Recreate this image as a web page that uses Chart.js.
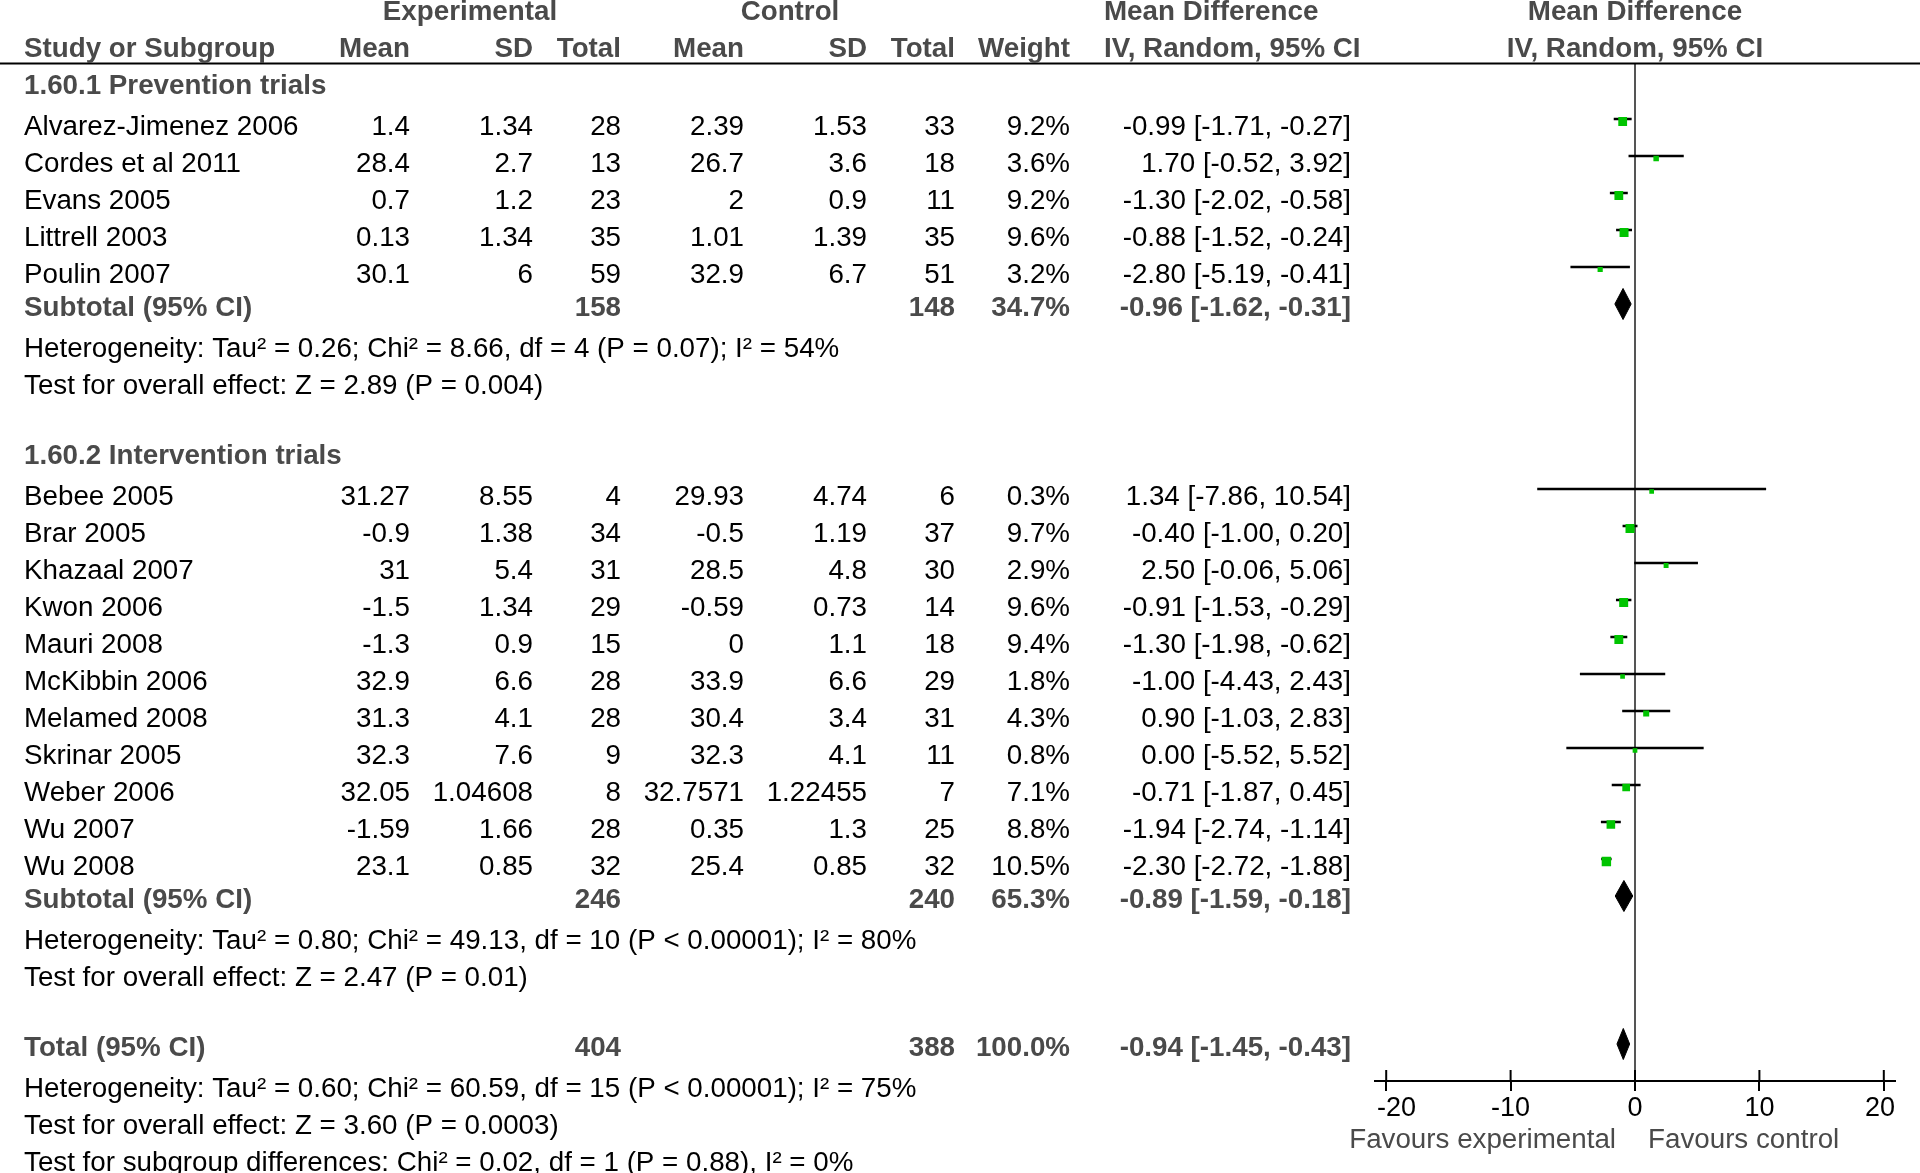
<!DOCTYPE html>
<html>
<head>
<meta charset="utf-8">
<script src="https://cdn.jsdelivr.net/npm/chart.js@4.4.1/dist/chart.umd.min.js"></script>
<style>
  html, body { margin: 0; padding: 0; background: #fff; overflow: hidden; }
  canvas { display: block; }
</style>
</head>
<body>
<canvas id="forest" width="1920" height="1173"></canvas>
<script>
// study rows
const studyNames = ['Alvarez-Jimenez 2006', 'Cordes et al 2011', 'Evans 2005', 'Littrell 2003', 'Poulin 2007',
  'Bebee 2005', 'Brar 2005', 'Khazaal 2007', 'Kwon 2006', 'Mauri 2008', 'McKibbin 2006', 'Melamed 2008',
  'Skrinar 2005', 'Weber 2006', 'Wu 2007', 'Wu 2008'];
const studyRows = [1, 2, 3, 4, 5, 11, 12, 13, 14, 15, 16, 17, 18, 19, 20, 21];
const expMean = [1.4, 28.4, 0.7, 0.13, 30.1, 31.27, -0.9, 31, -1.5, -1.3, 32.9, 31.3, 32.3, 32.05, -1.59, 23.1];
const expSD = [1.34, 2.7, 1.2, 1.34, 6, 8.55, 1.38, 5.4, 1.34, 0.9, 6.6, 4.1, 7.6, 1.04608, 1.66, 0.85];
const expN = [28, 13, 23, 35, 59, 4, 34, 31, 29, 15, 28, 28, 9, 8, 28, 32];
const ctlMean = [2.39, 26.7, 2, 1.01, 32.9, 29.93, -0.5, 28.5, -0.59, 0, 33.9, 30.4, 32.3, 32.7571, 0.35, 25.4];
const ctlSD = [1.53, 3.6, 0.9, 1.39, 6.7, 4.74, 1.19, 4.8, 0.73, 1.1, 6.6, 3.4, 4.1, 1.22455, 1.3, 0.85];
const ctlN = [33, 18, 11, 35, 51, 6, 37, 30, 14, 18, 29, 31, 11, 7, 25, 32];
const weights = [9.2, 3.6, 9.2, 9.6, 3.2, 0.3, 9.7, 2.9, 9.6, 9.4, 1.8, 4.3, 0.8, 7.1, 8.8, 10.5];
const mdValues = [-0.99, 1.70, -1.30, -0.88, -2.80, 1.34, -0.40, 2.50, -0.91, -1.30, -1.00, 0.90, 0.00, -0.71, -1.94, -2.30];
const ciLow = [-1.71, -0.52, -2.02, -1.52, -5.19, -7.86, -1.00, -0.06, -1.53, -1.98, -4.43, -1.03, -5.52, -1.87, -2.74, -2.72];
const ciHigh = [-0.27, 3.92, -0.58, -0.24, -0.41, 10.54, 0.20, 5.06, -0.29, -0.62, 2.43, 2.83, 5.52, 0.45, -1.14, -1.88];

// subgroup headings
const groupTitles = ['1.60.1 Prevention trials', '1.60.2 Intervention trials'];
const groupRows = [0, 10];

// subtotals and total
const summaryLabels = ['Subtotal (95% CI)', 'Subtotal (95% CI)', 'Total (95% CI)'];
const summaryRows = [6, 22, 26];
const summaryExpN = [158, 246, 404];
const summaryCtlN = [148, 240, 388];
const summaryWeight = [34.7, 65.3, 100.0];
const summaryMD = [-0.96, -0.89, -0.94];
const summaryLow = [-1.62, -1.59, -1.45];
const summaryHigh = [-0.31, -0.18, -0.43];

// statistics lines
const noteLines = [
  'Heterogeneity: Tau² = 0.26; Chi² = 8.66, df = 4 (P = 0.07); I² = 54%',
  'Test for overall effect: Z = 2.89 (P = 0.004)',
  'Heterogeneity: Tau² = 0.80; Chi² = 49.13, df = 10 (P < 0.00001); I² = 80%',
  'Test for overall effect: Z = 2.47 (P = 0.01)',
  'Heterogeneity: Tau² = 0.60; Chi² = 60.59, df = 15 (P < 0.00001); I² = 75%',
  'Test for overall effect: Z = 3.60 (P = 0.0003)',
  'Test for subgroup differences: Chi² = 0.02, df = 1 (P = 0.88), I² = 0%'
];
const noteRows = [7, 8, 23, 24, 27, 28, 29];

const xTicks = [-20, -10, 0, 10, 20];
const favourLabels = ['Favours experimental', 'Favours control'];

const FONT = '"Liberation Sans", Arial, sans-serif';
const SIZE = 27.75;
const GREY = '#4a4a4a';
const col = { name: 24, expMean: 410, expSD: 533, expN: 621, ctlMean: 744, ctlSD: 867, ctlN: 955,
  weight: 1070, ci: 1351, mdHead: 1104, expHead: 470, ctlHead: 790 };

function ciText(m, lo, hi) {
  return m.toFixed(2) + ' [' + lo.toFixed(2) + ', ' + hi.toFixed(2) + ']';
}

function put(ctx, s, x, y, align, bold, color, size) {
  ctx.font = (bold ? 'bold ' : '') + (size || SIZE) + 'px ' + FONT;
  ctx.textAlign = align;
  ctx.textBaseline = 'alphabetic';
  ctx.fillStyle = color;
  ctx.fillText(s, x, y);
}

// CI whiskers as one line with gaps
const whiskers = [];
studyRows.forEach((r, i) => {
  whiskers.push({ x: ciLow[i], y: r }, { x: ciHigh[i], y: r }, { x: null, y: null });
});

// squares sit a little under their whisker
const squareDrop = 2.5 / 37;
const halfH = 0.42;
const diamonds = summaryRows.map((r, i) => ({
  type: 'line',
  data: [
    { x: summaryLow[i], y: r }, { x: summaryMD[i], y: r - halfH },
    { x: summaryHigh[i], y: r }, { x: summaryMD[i], y: r + halfH }, { x: summaryLow[i], y: r }
  ],
  borderColor: '#000', borderWidth: 1, backgroundColor: '#000',
  fill: 'shape', pointRadius: 0, tension: 0, order: 1
}));

const tablePlugin = {
  id: 'table',
  afterDraw(chart) {
    const ctx = chart.ctx;
    const xs = chart.scales.x, ys = chart.scales.y;
    const area = chart.chartArea;
    const zero = xs.getPixelForValue(0);
    ctx.save();

    // header rule
    ctx.strokeStyle = '#000';
    ctx.lineWidth = 2;
    ctx.beginPath();
    ctx.moveTo(0, area.top);
    ctx.lineTo(chart.width, area.top);
    ctx.stroke();

    // upper half of the axis ticks, and the tick labels kept inside the axis span
    ctx.font = '27px ' + FONT;
    xTicks.forEach(v => {
      const px = xs.getPixelForValue(v);
      ctx.beginPath();
      ctx.moveTo(px, area.bottom - 11);
      ctx.lineTo(px, area.bottom);
      ctx.stroke();
      const label = String(v);
      const w = ctx.measureText(label).width;
      const left = Math.min(Math.max(px - w / 2, area.left + 2), area.right - w);
      put(ctx, label, left, area.bottom + 35, 'left', false, '#000', 27);
    });

    // headers
    put(ctx, 'Experimental', col.expHead, 20, 'center', true, GREY);
    put(ctx, 'Control', col.ctlHead, 20, 'center', true, GREY);
    put(ctx, 'Mean Difference', col.mdHead, 20, 'left', true, GREY);
    put(ctx, 'Mean Difference', zero, 20, 'center', true, GREY);
    put(ctx, 'Study or Subgroup', col.name, 57, 'left', true, GREY);
    put(ctx, 'Mean', col.expMean, 57, 'right', true, GREY);
    put(ctx, 'SD', col.expSD, 57, 'right', true, GREY);
    put(ctx, 'Total', col.expN, 57, 'right', true, GREY);
    put(ctx, 'Mean', col.ctlMean, 57, 'right', true, GREY);
    put(ctx, 'SD', col.ctlSD, 57, 'right', true, GREY);
    put(ctx, 'Total', col.ctlN, 57, 'right', true, GREY);
    put(ctx, 'Weight', col.weight, 57, 'right', true, GREY);
    put(ctx, 'IV, Random, 95% CI', col.mdHead, 57, 'left', true, GREY);
    put(ctx, 'IV, Random, 95% CI', zero, 57, 'center', true, GREY);

    groupRows.forEach((r, i) => {
      put(ctx, groupTitles[i], col.name, ys.getPixelForValue(r) + 12, 'left', true, GREY);
    });

    studyRows.forEach((r, i) => {
      const y = ys.getPixelForValue(r) + 16;
      put(ctx, studyNames[i], col.name, y, 'left', false, '#000');
      put(ctx, String(expMean[i]), col.expMean, y, 'right', false, '#000');
      put(ctx, String(expSD[i]), col.expSD, y, 'right', false, '#000');
      put(ctx, String(expN[i]), col.expN, y, 'right', false, '#000');
      put(ctx, String(ctlMean[i]), col.ctlMean, y, 'right', false, '#000');
      put(ctx, String(ctlSD[i]), col.ctlSD, y, 'right', false, '#000');
      put(ctx, String(ctlN[i]), col.ctlN, y, 'right', false, '#000');
      put(ctx, weights[i].toFixed(1) + '%', col.weight, y, 'right', false, '#000');
      put(ctx, ciText(mdValues[i], ciLow[i], ciHigh[i]), col.ci, y, 'right', false, '#000');
    });

    summaryRows.forEach((r, i) => {
      const y = ys.getPixelForValue(r) + 12;
      put(ctx, summaryLabels[i], col.name, y, 'left', true, GREY);
      put(ctx, String(summaryExpN[i]), col.expN, y, 'right', true, GREY);
      put(ctx, String(summaryCtlN[i]), col.ctlN, y, 'right', true, GREY);
      put(ctx, summaryWeight[i].toFixed(1) + '%', col.weight, y, 'right', true, GREY);
      put(ctx, ciText(summaryMD[i], summaryLow[i], summaryHigh[i]), col.ci, y, 'right', true, GREY);
    });

    noteRows.forEach((r, i) => {
      put(ctx, noteLines[i], col.name, ys.getPixelForValue(r) + 16, 'left', false, '#000');
    });

    put(ctx, favourLabels[0], zero - 19, 1148, 'right', false, GREY);
    put(ctx, favourLabels[1], zero + 13, 1148, 'left', false, GREY);
    ctx.restore();
  }
};

new Chart(document.getElementById('forest'), {
  type: 'scatter',
  data: {
    datasets: [
      {
        type: 'scatter',
        data: studyRows.map((r, i) => ({ x: mdValues[i], y: r + squareDrop })),
        pointStyle: 'rect',
        pointRadius: weights.map(w => Math.max(4.7, 2.9 * Math.sqrt(w)) / Math.SQRT2),
        backgroundColor: '#00c400',
        borderWidth: 0,
        order: 0
      },
      ...diamonds,
      {
        type: 'line',
        data: whiskers,
        borderColor: '#000',
        borderWidth: 2.4,
        pointRadius: 0,
        spanGaps: false,
        order: 2
      },
      {
        type: 'line',
        data: [{ x: 0, y: -0.5 }, { x: 0, y: 27 }],
        borderColor: '#555',
        borderWidth: 2,
        pointRadius: 0,
        order: 3
      }
    ]
  },
  options: {
    responsive: false,
    animation: false,
    devicePixelRatio: 1,
    layout: { padding: { left: 1375, right: 25, top: 63.5, bottom: 42 } },
    plugins: { legend: { display: false }, tooltip: { enabled: false } },
    scales: {
      x: {
        type: 'linear',
        min: -20.9,
        max: 20.9,
        afterBuildTicks: s => { s.ticks = xTicks.map(v => ({ value: v })); },
        afterFit: s => { s.height = 50; },
        border: { display: true, color: '#000', width: 2 },
        grid: { drawOnChartArea: false, drawTicks: true, tickLength: 10, color: '#000', lineWidth: 2 },
        ticks: { display: false }
      },
      y: {
        type: 'linear',
        display: false,
        reverse: true,
        min: -0.5,
        max: 27
      }
    }
  },
  plugins: [tablePlugin]
});
</script>
</body>
</html>
